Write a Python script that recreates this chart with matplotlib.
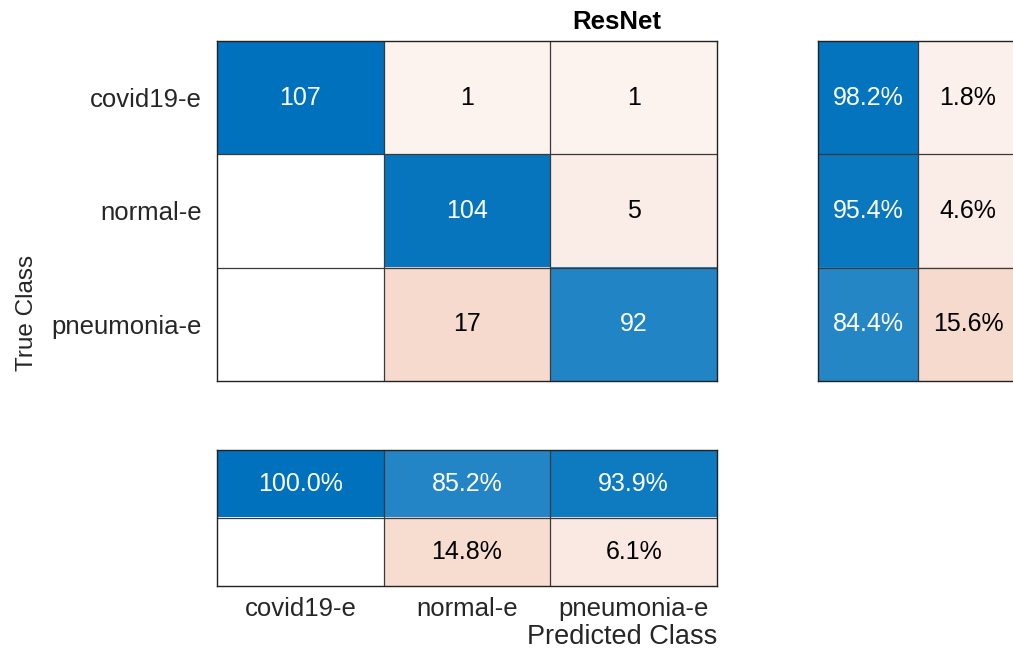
import numpy as np
import matplotlib
matplotlib.use('agg')
import matplotlib.pyplot as plt

plt.rcParams['font.family'] = ['Liberation Sans', 'DejaVu Sans']

classes = ['covid19-e', 'normal-e', 'pneumonia-e']
counts = np.array([
    [107, 1, 1],
    [0, 104, 5],
    [0, 17, 92],
])
title = 'ResNet'

BLUE = np.array([0, 114, 189]) / 255.0
ORANGE = np.array([217, 83, 25]) / 255.0
TEXT = '#262626'
EDGE = '#3a3a3a'
CELL_FS = 18
TICK_FS = 18.5

W, H = 1013, 653


def px_axes(fig, x0, y0, x1, y1):
    """Add axes using pixel coords measured from the top-left corner"""
    return fig.add_axes([x0 / W, 1 - y1 / H, (x1 - x0) / W, (y1 - y0) / H])


def shade(frac, good):
    """Blend white toward blue (correct) or orange (error) by fraction"""
    if frac <= 0:
        return np.ones(3), False
    a = 0.065 + 0.935 * frac
    base = BLUE if good else ORANGE
    return 1 - a * (1 - base), a > 0.5


def draw_grid(ax, cells, labels, nrows, ncols):
    img = np.ones((nrows, ncols, 3))
    for (r, c), (rgb, _) in cells.items():
        img[r, c] = rgb
    ax.imshow(img, extent=(0, ncols, nrows, 0), aspect='auto', interpolation='nearest')
    for (r, c), (rgb, dark) in cells.items():
        txt = labels.get((r, c))
        if txt:
            ax.text(c + 0.5, r + 0.5, txt, ha='center', va='center', fontsize=CELL_FS,
                    color='white' if dark else 'black')
    for k in range(1, ncols):
        ax.axvline(k, color=EDGE, lw=0.9)
    for k in range(1, nrows):
        ax.axhline(k, color=EDGE, lw=0.9)
    ax.set_xlim(0, ncols)
    ax.set_ylim(nrows, 0)
    ax.set_xticks([])
    ax.set_yticks([])
    for s in ax.spines.values():
        s.set_color('#222222')
        s.set_linewidth(1.0)


fig = plt.figure(figsize=(W / 100, H / 100), dpi=100)
n = len(classes)
cmax = counts.max()

# main confusion matrix
ax_main = px_axes(fig, 217, 41, 717, 381)
cells, labels = {}, {}
for i in range(n):
    for j in range(n):
        cells[(i, j)] = shade(counts[i, j] / cmax, i == j)
        if counts[i, j] > 0:
            labels[(i, j)] = str(counts[i, j])
draw_grid(ax_main, cells, labels, n, n)
ax_main.set_yticks(np.arange(n) + 0.5)
ax_main.set_yticklabels(classes, fontsize=TICK_FS, color=TEXT)
ax_main.tick_params(axis='y', length=0, pad=11)

# row summary: true positive rate / false negative rate
row_tot = counts.sum(axis=1)
row_ok = np.diag(counts) / row_tot * 100
row_bad = 100 - row_ok
ax_row = px_axes(fig, 818, 41, 1018, 381)
cells, labels = {}, {}
for i in range(n):
    cells[(i, 0)] = shade(row_ok[i] / 100, True)
    cells[(i, 1)] = shade(row_bad[i] / 100, False)
    labels[(i, 0)] = f'{row_ok[i]:.1f}%'
    labels[(i, 1)] = f'{row_bad[i]:.1f}%' if row_bad[i] > 0 else ''
draw_grid(ax_row, cells, labels, n, 2)

# column summary: precision / false discovery rate
col_tot = counts.sum(axis=0)
col_ok = np.diag(counts) / col_tot * 100
col_bad = 100 - col_ok
ax_col = px_axes(fig, 217, 450, 717, 586)
cells, labels = {}, {}
for j in range(n):
    cells[(0, j)] = shade(col_ok[j] / 100, True)
    cells[(1, j)] = shade(col_bad[j] / 100, False)
    labels[(0, j)] = f'{col_ok[j]:.1f}%'
    labels[(1, j)] = f'{col_bad[j]:.1f}%' if col_bad[j] > 1e-9 else ''
draw_grid(ax_col, cells, labels, 2, n)
ax_col.set_xticks(np.arange(n) + 0.5)
ax_col.set_xticklabels(classes, fontsize=TICK_FS, color=TEXT)
ax_col.tick_params(axis='x', length=0, pad=8)

fig.text(717 / W, 1 - 637 / H, 'Predicted Class', ha='right', va='center',
         fontsize=19.5, color=TEXT)
fig.text(27 / W, 1 - 313 / H, 'True Class', ha='center', va='center',
         rotation=90, fontsize=17.5, color=TEXT)
fig.text(617 / W, 1 - 22 / H, title, ha='center', va='center',
         fontsize=18.5, fontweight='bold', color='black')

fig.savefig('out.png', dpi=100, facecolor='white')
plt.close(fig)
